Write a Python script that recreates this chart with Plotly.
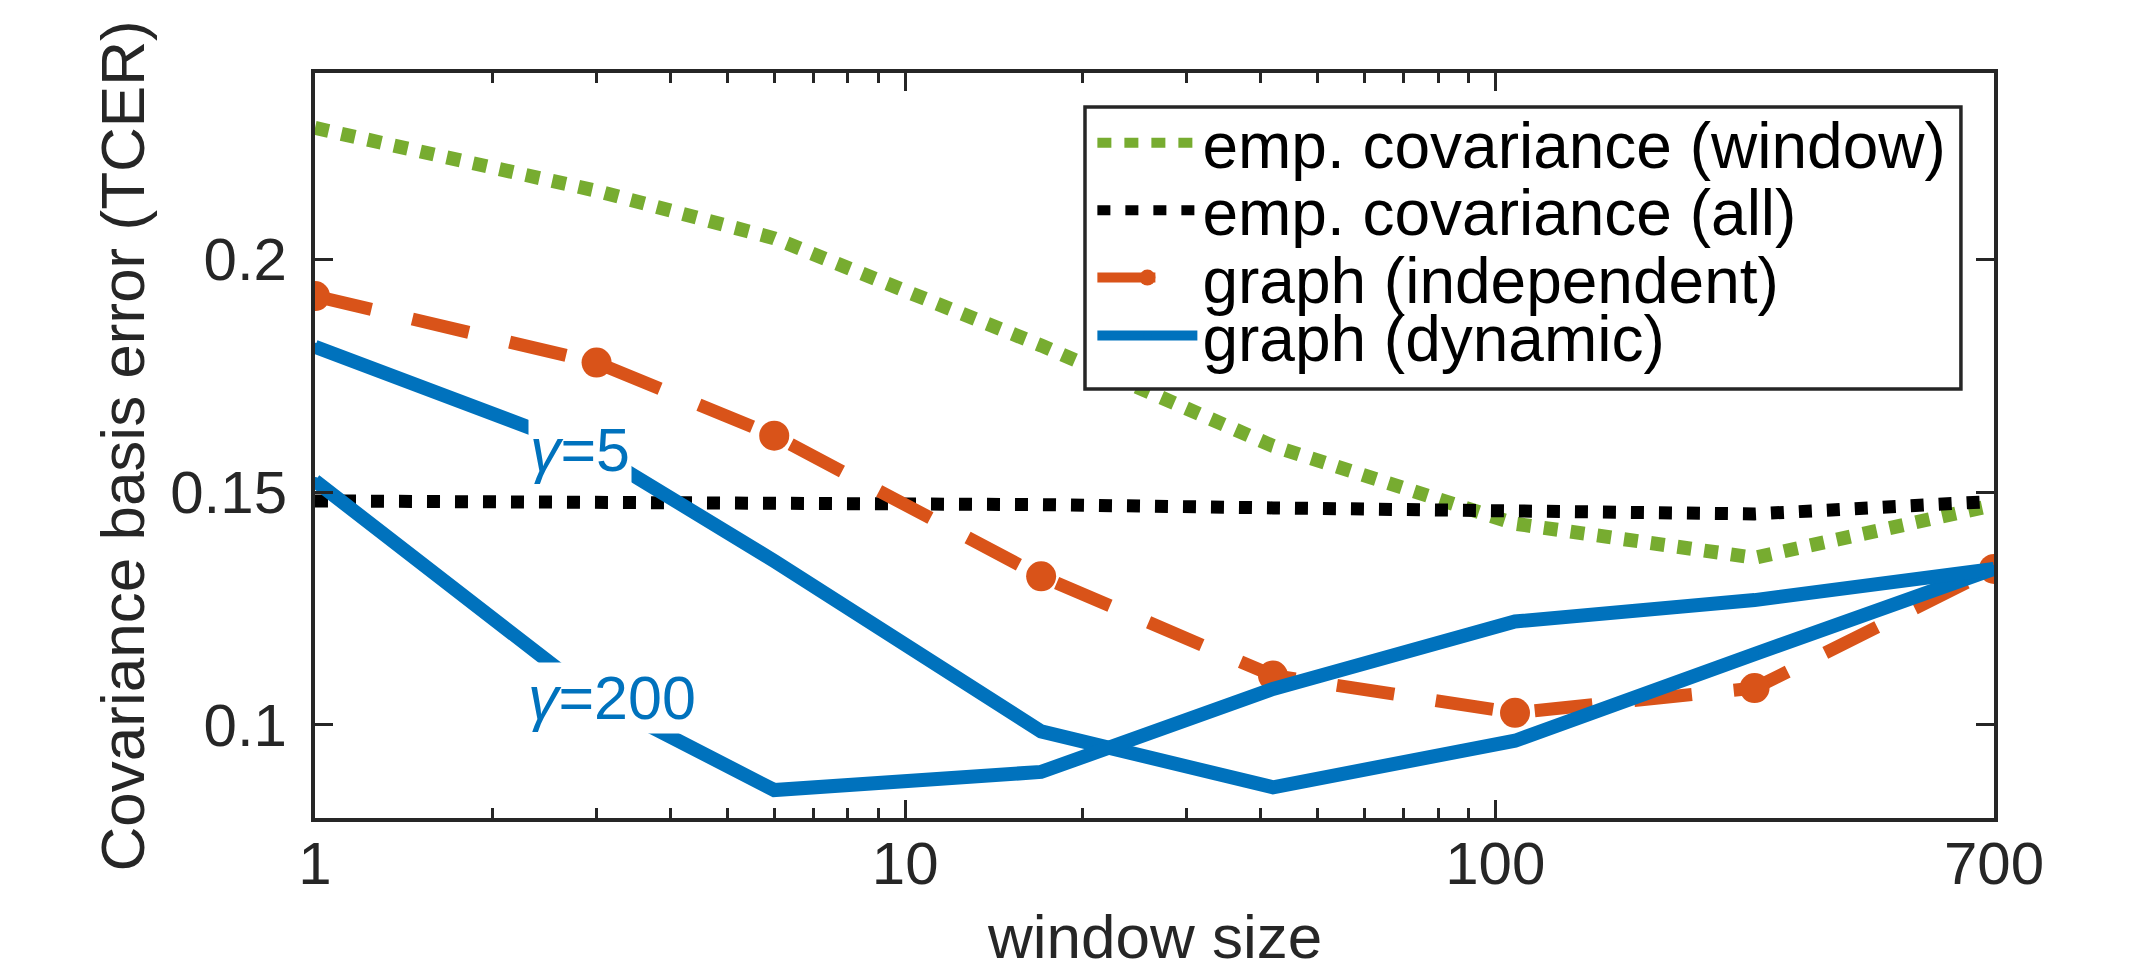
import plotly.graph_objects as go

# ---- data ----
window_size = [1, 3, 6, 17, 42, 108, 275, 700]
emp_cov_window = [0.2282, 0.2147, 0.2045, 0.1815, 0.1599, 0.1432, 0.1359, 0.1472]
emp_cov_all = [0.1481, 0.1480, 0.1478, 0.1473, 0.1466, 0.1456, 0.1453, 0.1480]
graph_independent = [0.1921, 0.1778, 0.1621, 0.1319, 0.1106, 0.1026, 0.1079, 0.1335]
graph_dynamic_g5 = [0.1812, 0.1584, 0.1352, 0.0986, 0.0866, 0.0966, 0.1152, 0.1335]
graph_dynamic_g200 = [0.1524, 0.1056, 0.0860, 0.0899, 0.1077, 0.1222, 0.1268, 0.1335]

series_names = ["emp. covariance (window)", "emp. covariance (all)",
                "graph (independent)", "graph (dynamic)"]
gamma_labels = ["γ=5", "γ=200"]

x_tickvals = [1, 10, 100, 700]
x_ticktext = ["1", "10", "100", "700"]
x_minor = [2, 3, 4, 5, 6, 7, 8, 9, 20, 30, 40, 50, 60, 70, 80, 90]
y_tickvals = [0.1, 0.15, 0.2]
y_ticktext = ["0.1", "0.15", "0.2"]

GREEN = "#77AC30"
BLACK = "#000000"
ORANGE = "#D95319"
BLUE = "#0072BD"
AX = "#262626"
FONT = "Liberation Sans, Arial, Helvetica, sans-serif"

fig = go.Figure()
fig.add_trace(go.Scatter(x=window_size, y=emp_cov_window, mode="lines",
                         name=series_names[0], legend="legend",
                         line=dict(color=GREEN, width=14, dash="14px,13px")))
fig.add_trace(go.Scatter(x=window_size, y=emp_cov_all, mode="lines",
                         name=series_names[1], legend="legend2",
                         line=dict(color=BLACK, width=13, dash="13px,15px")))
fig.add_trace(go.Scatter(x=window_size, y=graph_independent, mode="lines+markers",
                         name=series_names[2], legend="legend3",
                         line=dict(color=ORANGE, width=13, dash="58px,42px"),
                         marker=dict(color=ORANGE, size=30, symbol="circle")))
fig.add_trace(go.Scatter(x=window_size, y=graph_dynamic_g5, mode="lines+markers",
                         name=series_names[3], legend="legend4",
                         line=dict(color=BLUE, width=14),
                         marker=dict(color=BLUE, size=8)))
fig.add_trace(go.Scatter(x=window_size, y=graph_dynamic_g200, mode="lines+markers",
                         name=series_names[3] + " " + gamma_labels[1], showlegend=False,
                         line=dict(color=BLUE, width=14),
                         marker=dict(color=BLUE, size=8)))

fig.add_annotation(text="<i>γ</i>=5", xref="paper", yref="paper", x=0.1578, y=0.494,
                   xanchor="center", yanchor="middle", showarrow=False,
                   bgcolor="white", font=dict(family=FONT, size=61, color=BLUE))
fig.add_annotation(text="<i>γ</i>=200", xref="paper", yref="paper", x=0.1769, y=0.161,
                   xanchor="center", yanchor="middle", showarrow=False,
                   bgcolor="white", font=dict(family=FONT, size=61, color=BLUE))

# axis titles
fig.add_annotation(text="window size", xref="paper", yref="paper", x=0.5, y=-0.1597,
                   xanchor="center", yanchor="middle", showarrow=False,
                   font=dict(family=FONT, size=62, color=AX))
fig.add_annotation(text="Covariance basis error (TCER)", xref="paper", yref="paper",
                   x=-0.1144, y=0.5, xanchor="center", yanchor="middle", textangle=-90,
                   showarrow=False, font=dict(family=FONT, size=62, color=AX))

# legend frame
fig.add_shape(type="rect", xref="paper", yref="paper",
              x0=0.4586, x1=0.9803, y0=0.5758, y1=0.9544,
              fillcolor="white", line=dict(color=AX, width=3.5), layer="above")

leg_common = dict(x=0.4630, xanchor="left", yanchor="middle",
                  bgcolor="rgba(0,0,0,0)", borderwidth=0,
                  font=dict(family=FONT, size=64, color="black"), itemwidth=100)
row_y = [0.906, 0.8152, 0.7249, 0.647]

fig.update_layout(
    width=2155, height=973,
    margin=dict(l=315, r=161, t=73, b=155),
    paper_bgcolor="white", plot_bgcolor="white",
    font=dict(family=FONT, size=60, color=AX),
    showlegend=True,
    legend=dict(y=row_y[0], **leg_common),
    legend2=dict(y=row_y[1], **leg_common),
    legend3=dict(y=row_y[2], **leg_common),
    legend4=dict(y=row_y[3], **leg_common),
)
fig.update_xaxes(type="log", range=[0, 2.84510], tickmode="array",
                 tickvals=x_tickvals, ticktext=x_ticktext,
                 ticks="inside", ticklen=18, tickwidth=3, tickcolor=AX,
                 showline=True, linewidth=4, linecolor=AX, mirror="allticks",
                 showgrid=False, zeroline=False, ticklabelstandoff=-10,
                 minor=dict(tickmode="array", tickvals=x_minor, ticks="inside",
                            ticklen=10, tickwidth=3, tickcolor=AX, showgrid=False),
                 tickfont=dict(family=FONT, size=60, color=AX))
fig.update_yaxes(range=[0.08, 0.24], tickmode="array",
                 tickvals=y_tickvals, ticktext=y_ticktext,
                 ticks="inside", ticklen=18, tickwidth=3, tickcolor=AX,
                 showline=True, linewidth=4, linecolor=AX, mirror="allticks",
                 showgrid=False, zeroline=False, ticklabelstandoff=12,
                 tickfont=dict(family=FONT, size=60, color=AX))

fig.write_html("out.html")
